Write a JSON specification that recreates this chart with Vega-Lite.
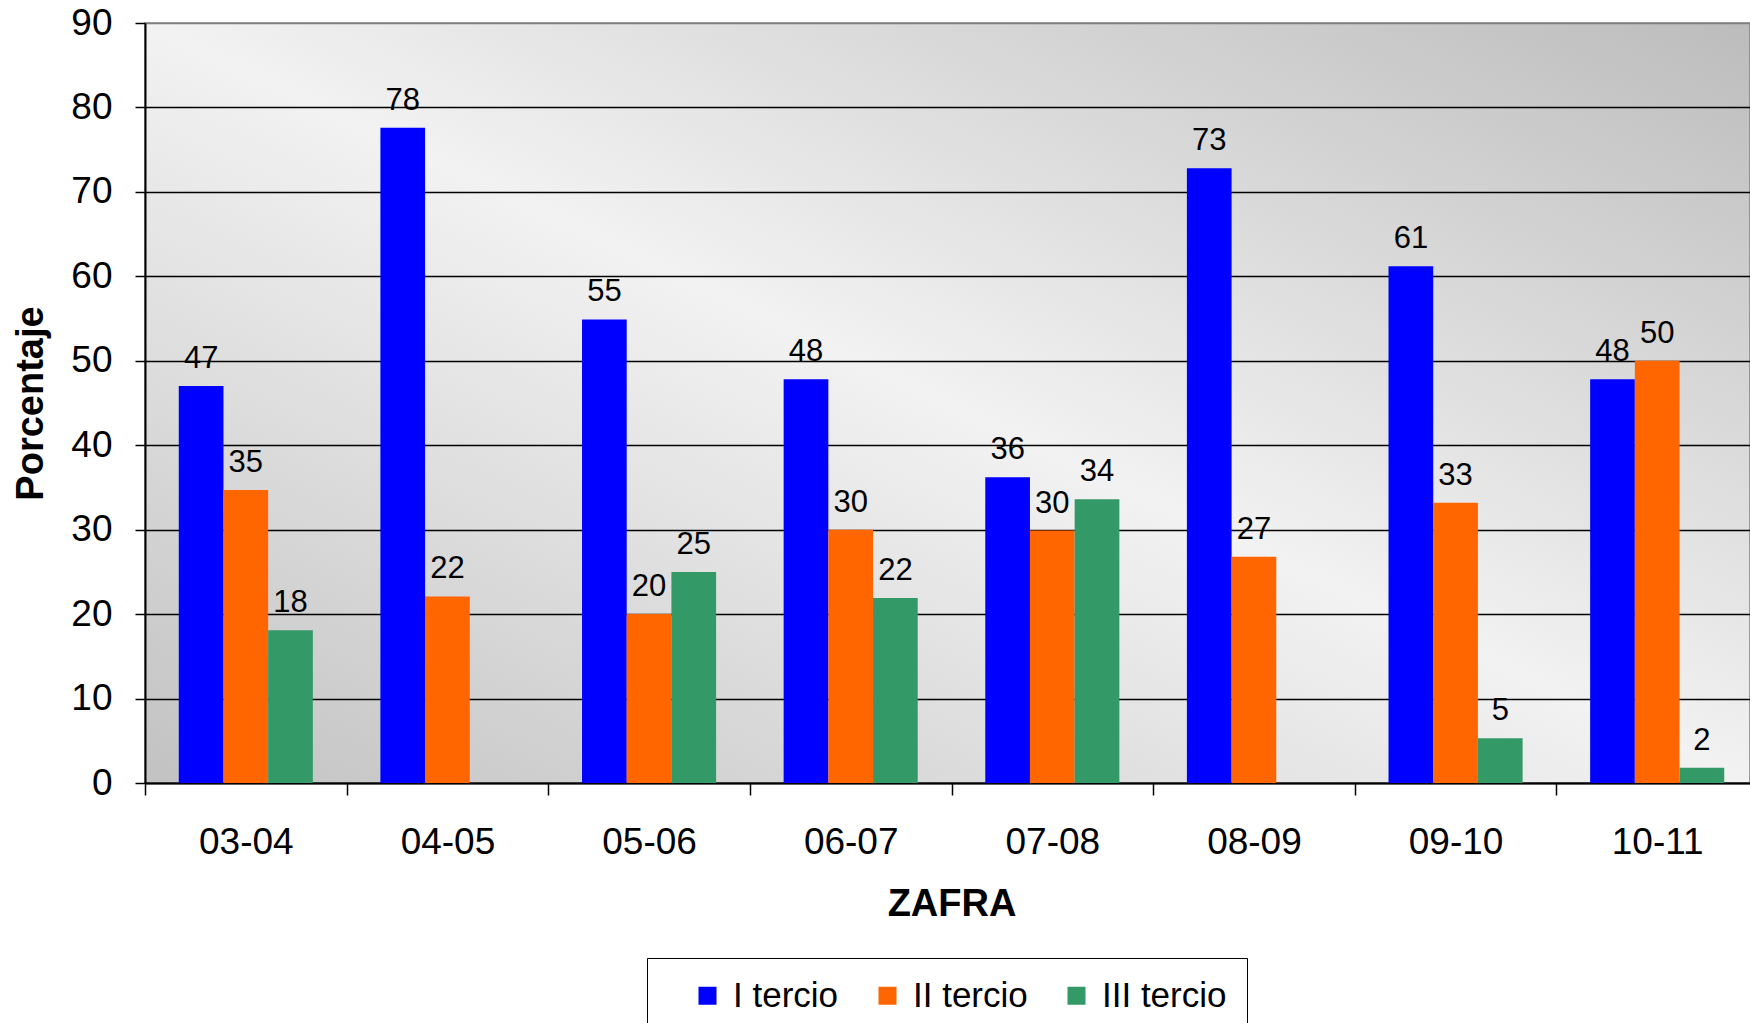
{
  "$schema": "https://vega.github.io/schema/vega-lite/v6.json",
  "autosize": "none",
  "width": 1605,
  "height": 760,
  "padding": {"left": 145, "top": 23, "right": 0, "bottom": 240},
  "background": "white",
  "view": {
    "stroke": "#808080",
    "strokeWidth": 1.5,
    "fill": {
      "gradient": "linear",
      "x1": 0, "y1": 1, "x2": 1, "y2": 0,
      "stops": [
        {"offset": 0, "color": "#c2c2c2"},
        {"offset": 0.5, "color": "#f2f2f2"},
        {"offset": 1, "color": "#bcbcbc"}
      ]
    }
  },
  "config": {
    "font": "Liberation Sans",
    "axis": {"labelFont": "Liberation Sans", "titleFont": "Liberation Sans"}
  },
  "data": {
    "values": [
      {"zafra": "03-04", "serie": "I tercio", "valor": 47.0},
      {"zafra": "03-04", "serie": "II tercio", "valor": 34.7},
      {"zafra": "03-04", "serie": "III tercio", "valor": 18.1},
      {"zafra": "04-05", "serie": "I tercio", "valor": 77.6},
      {"zafra": "04-05", "serie": "II tercio", "valor": 22.1},
      {"zafra": "05-06", "serie": "I tercio", "valor": 54.9},
      {"zafra": "05-06", "serie": "II tercio", "valor": 20.0},
      {"zafra": "05-06", "serie": "III tercio", "valor": 25.0},
      {"zafra": "06-07", "serie": "I tercio", "valor": 47.8},
      {"zafra": "06-07", "serie": "II tercio", "valor": 30.0},
      {"zafra": "06-07", "serie": "III tercio", "valor": 21.9},
      {"zafra": "07-08", "serie": "I tercio", "valor": 36.2},
      {"zafra": "07-08", "serie": "II tercio", "valor": 29.9},
      {"zafra": "07-08", "serie": "III tercio", "valor": 33.6},
      {"zafra": "08-09", "serie": "I tercio", "valor": 72.8},
      {"zafra": "08-09", "serie": "II tercio", "valor": 26.8},
      {"zafra": "09-10", "serie": "I tercio", "valor": 61.2},
      {"zafra": "09-10", "serie": "II tercio", "valor": 33.2},
      {"zafra": "09-10", "serie": "III tercio", "valor": 5.3},
      {"zafra": "10-11", "serie": "I tercio", "valor": 47.8},
      {"zafra": "10-11", "serie": "II tercio", "valor": 50.0},
      {"zafra": "10-11", "serie": "III tercio", "valor": 1.8}
    ]
  },
  "encoding": {
    "x": {
      "field": "zafra",
      "type": "nominal",
      "scale": {"range": [0, 1613], "paddingInner": 0.335, "paddingOuter": 0.1675},
      "axis": {
        "title": "ZAFRA",
        "titleFontSize": 38,
        "titleFontWeight": "bold",
        "titleColor": "black",
        "titlePadding": 25,
        "labelAngle": 0,
        "labelFontSize": 37,
        "labelColor": "black",
        "labelPadding": 29,
        "bandPosition": 0.5,
        "tickOffset": -100.8,
        "labelOffset": 100.8,
        "tickSize": 12,
        "tickColor": "black",
        "tickWidth": 1.5,
        "domainColor": "black",
        "domainWidth": 2,
        "grid": false
      }
    },
    "y": {
      "field": "valor",
      "type": "quantitative",
      "scale": {"domain": [0, 90], "nice": false},
      "axis": {
        "title": "Porcentaje",
        "titleFontSize": 38,
        "titleFontWeight": "bold",
        "titleColor": "black",
        "titlePadding": 20,
        "values": [0, 10, 20, 30, 40, 50, 60, 70, 80, 90],
        "labelFontSize": 37,
        "labelColor": "black",
        "labelPadding": 23,
        "tickSize": 10,
        "tickColor": "black",
        "tickWidth": 1.5,
        "domainColor": "black",
        "domainWidth": 2,
        "grid": true,
        "gridColor": {"condition": {"test": "datum.value == 90", "value": "#808080"}, "value": "black"},
        "gridWidth": 1.5
      }
    },
    "xOffset": {"field": "serie", "type": "nominal", "sort": ["I tercio", "II tercio", "III tercio"], "scale": {"paddingInner": 0, "paddingOuter": 0}}
  },
  "layer": [
    {
      "mark": {"type": "bar"},
      "encoding": {
        "color": {
          "field": "serie",
          "type": "nominal",
          "scale": {"domain": ["I tercio", "II tercio", "III tercio"], "range": ["#0000ff", "#ff6600", "#339966"]},
          "legend": {
            "title": null,
            "orient": "none",
            "direction": "horizontal",
            "legendX": 502,
            "legendY": 935,
            "padding": 20,
            "symbolOffset": 23,
            "columnPadding": 8,
            "symbolType": "square",
            "symbolSize": 324,
            "symbolStrokeWidth": 0,
            "labelFontSize": 35,
            "labelFont": "Liberation Sans",
            "labelColor": "black",
            "labelOffset": 8,
            "labelLimit": 300,
            "strokeColor": "black",
            "fillColor": "white"
          }
        }
      }
    },
    {
      "mark": {"type": "text", "baseline": "alphabetic", "dy": -18, "fontSize": 31, "color": "black", "font": "Liberation Sans"},
      "encoding": {
        "text": {"field": "valor", "type": "quantitative", "format": ".0f"}
      }
    }
  ]
}
